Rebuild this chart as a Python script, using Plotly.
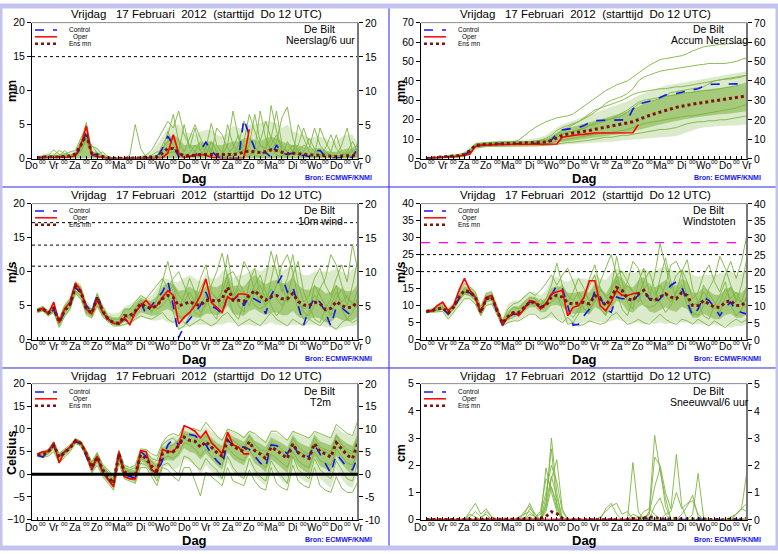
import plotly.graph_objects as go

W, H = 778, 554
HOURS = list(range(6, 361, 6))          # 60 six-hourly steps
HOURS_OPER = HOURS[:40]                  # operational run to +240h

DAY_NAMES = ["Do", "Vr", "Za", "Zo", "Ma", "Di", "Wo", "Do", "Vr", "Za", "Zo", "Ma", "Di", "Wo", "Do", "Vr"]
TITLE = "Vrijdag\u00a0\u00a0 17 Februari\u00a0 2012\u00a0 (starttijd\u00a0 Do 12 UTC)"
PANEL_LABELS = ["Neerslag/6 uur", "Accum Neerslag", "10m wind", "Windstoten", "T2m", "Sneeuwval/6 uur"]
PANEL_UNITS = ["mm", "mm", "m/s", "m/s", "Celsius", "cm"]
Y_RANGES = [(0, 20), (0, 70), (0, 20), (0, 40), (-10, 20), (0, 5)]
Y_STEPS = [5, 10, 5, 5, 5, 1]

# ---------------- Neerslag/6 uur ----------------
precip_ctrl = [0.1,0.2,0.3,0.2,0.2,0.2,0.3,0.5,1.5,4.2,
               0.5,0.7,0.2,0.0,0.0,0.0,0.0,0.0,0.0,0.0,
               0.0,0.0,0.1,1.5,3.3,2.0,0.3,0.2,0.3,0.5,
               1.2,2.4,1.2,0.3,0.1,0.0,0.0,0.0,5.8,3.5,
               1.5,0.8,0.9,0.2,2.0,0.8,0.6,0.8,0.5,0.5,
               0.3,1.1,1.2,0.3,0.1,0.1,0.1,0.1,0.2,1.6]
precip_oper = [0.1,0.1,0.2,0.2,0.1,0.1,0.2,0.4,2.0,4.8,
               0.5,0.3,0.1,0.0,0.0,0.0,0.0,0.0,0.0,0.0,
               0.0,0.0,0.0,0.1,0.8,3.5,0.8,0.1,0.3,0.5,
               0.6,0.5,0.2,0.1,0.0,0.0,0.0,0.0,0.1,4.3]
precip_mean = [0.1,0.2,0.3,0.2,0.2,0.3,0.4,0.7,2.0,3.5,
               0.8,0.4,0.3,0.1,0.05,0.05,0.05,0.05,0.1,0.1,
               0.2,0.2,0.3,0.8,1.5,1.5,0.8,0.4,0.4,0.5,
               0.6,0.6,0.5,0.5,0.5,0.5,0.6,0.7,1.0,1.1,
               1.0,0.9,1.0,1.3,1.2,0.9,0.7,0.8,0.7,0.6,
               0.5,0.5,0.5,0.4,0.3,0.3,0.4,0.4,0.4,0.5]
precip_lo = [0.0] * 60
precip_hi = [0.4,0.6,0.9,0.8,0.9,0.8,1.0,1.2,3.2,5.0,
             1.5,1.5,0.8,0.3,0.2,0.1,0.1,0.2,0.3,0.5,
             0.6,1.0,2.0,3.2,4.5,5.0,5.0,3.8,3.8,3.5,
             4.0,4.2,4.2,3.5,3.2,3.8,4.8,4.5,4.5,5.0,
             5.0,5.2,5.5,5.5,5.2,4.5,5.0,4.0,3.8,3.5,
             3.0,3.2,3.2,3.0,2.6,2.6,3.2,3.5,3.5,2.2]
precip_core_lo = [0.0] * 60
precip_core_hi = [0.3,0.4,0.5,0.5,0.5,0.5,0.6,0.8,2.5,4.0,
                  1.0,1.0,0.4,0.1,0.1,0.1,0.1,0.1,0.1,0.1,
                  0.2,0.3,0.5,1.5,3.0,3.5,3.0,2.0,2.0,2.0,
                  2.2,2.5,2.5,2.0,2.0,2.2,2.5,2.5,3.0,3.0,
                  2.8,2.5,3.0,3.2,3.0,2.5,2.2,2.0,2.0,1.8,
                  1.5,1.5,1.6,1.2,1.0,1.0,1.3,1.5,1.5,1.5]
precip_m1 = [0.2,0.3,0.5,1.3,0.6,0.4,0.5,0.8,2.5,5.3,
             1.0,0.5,0.2,0.0,0.0,0.0,0.0,0.5,5.0,1.5,
             0.2,0.3,0.5,1.5,2.5,3.0,1.0,0.5,0.3,1.0,
             2.5,0.8,0.3,0.2,0.5,2.0,7.0,3.0,0.5,0.3,
             1.0,2.0,1.5,3.0,2.0,0.5,0.3,0.8,1.5,0.5,
             0.3,0.2,0.5,1.0,0.5,0.2,0.3,1.0,2.5,1.0]
precip_m2 = [0.1,0.2,0.3,0.5,1.2,0.8,0.3,0.5,1.5,3.5,
             1.8,1.5,0.5,0.2,0.0,0.0,0.0,0.0,0.0,0.2,
             0.5,1.2,2.5,4.0,5.5,4.5,7.0,3.5,2.0,1.0,
             0.5,1.5,5.2,2.0,0.8,0.3,0.5,1.0,2.5,6.5,
             4.0,2.0,1.0,7.8,4.0,1.5,1.0,2.0,0.5,1.0,
             3.0,1.5,0.5,0.3,1.0,0.5,0.2,0.5,1.5,2.0]
precip_m3 = [0.0,0.1,0.2,0.3,0.4,0.6,1.0,1.2,3.0,4.5,
             0.8,0.6,1.0,0.3,0.1,0.0,0.0,0.0,0.0,0.0,
             0.1,0.2,0.3,2.0,3.5,6.5,2.5,1.0,3.0,5.0,
             3.0,1.5,0.8,4.5,3.5,1.5,0.5,2.0,5.5,3.0,
             1.5,7.0,3.0,1.2,2.5,6.0,7.6,3.0,1.0,2.0,
             1.5,4.5,2.0,1.0,0.3,0.5,2.0,4.5,1.0,0.5]
precip_m4 = [0.2,0.4,0.3,0.5,0.3,1.2,0.4,0.6,2.0,3.0,
             2.0,0.8,0.3,0.1,0.0,0.0,0.0,0.0,0.0,0.0,
             0.0,0.5,1.0,1.0,4.0,2.0,1.0,5.0,1.5,4.5,
             1.0,0.5,2.5,1.0,0.5,5.0,2.0,1.0,0.8,2.0,
             6.5,2.5,5.5,3.0,7.0,2.0,1.0,0.5,5.0,3.0,
             1.0,0.5,4.5,2.5,1.0,3.5,1.0,0.3,0.5,1.5]
precip_m5 = [0.1,0.1,0.2,0.2,0.3,0.3,0.4,0.8,1.5,2.5,
             0.5,0.3,0.2,0.1,0.0,0.0,0.0,0.0,0.0,0.0,
             0.0,0.0,0.2,0.5,1.0,1.5,0.8,0.5,0.8,2.0,
             1.2,2.5,1.0,0.5,0.3,0.8,1.5,3.5,1.0,0.5,
             1.5,1.0,0.8,2.0,3.5,1.0,0.5,1.2,2.0,4.5,
             2.0,1.0,0.5,1.5,3.5,1.5,0.5,0.8,1.0,0.5]
precip_m6 = [0.0,0.1,0.1,0.2,0.2,0.3,0.3,0.5,1.0,3.0,
             0.3,0.2,0.1,0.0,0.0,0.0,0.0,0.0,0.0,0.0,
             0.0,0.0,0.0,0.3,0.8,1.0,0.5,0.2,0.2,0.5,
             0.3,0.8,1.5,0.5,0.2,0.3,0.5,1.0,2.0,1.2,
             0.5,0.3,1.0,1.5,0.5,0.3,2.5,1.0,0.5,0.2,
             0.5,0.3,0.2,0.8,0.5,0.3,0.2,0.1,0.3,2.5]

# ---------------- Accum Neerslag ----------------
accum_ctrl = [0.1,0.3,0.6,0.9,1.1,1.3,1.5,2.0,3.5,6.5,
              6.9,7.2,7.4,7.5,7.5,7.5,7.5,7.5,7.6,7.6,
              7.7,7.8,8.0,9.5,13.0,14.8,15.2,15.5,16.0,17.0,
              18.5,19.5,19.8,19.8,19.8,19.8,19.8,20.0,25.5,28.0,
              28.8,29.5,30.2,31.5,32.8,33.2,33.5,34.2,34.8,35.2,
              36.0,37.2,38.2,38.3,38.3,38.3,38.3,38.3,38.5,39.8]
accum_oper = [0.1,0.2,0.4,0.6,0.8,1.0,1.2,1.7,2.2,6.3,
              6.8,7.0,7.1,7.2,7.2,7.2,7.2,7.2,7.2,7.2,
              7.2,7.2,7.2,7.3,7.5,11.0,11.5,12.0,12.3,12.5,
              13.0,13.2,13.2,13.2,13.2,13.2,13.2,13.2,13.3,17.5]
accum_mean = [0.1,0.3,0.5,0.8,1.0,1.3,1.6,2.2,4.0,6.8,
              7.2,7.4,7.5,7.6,7.6,7.6,7.7,7.7,7.8,7.9,
              8.0,8.2,8.5,9.3,10.8,12.0,12.6,13.0,13.4,13.9,
              14.5,15.1,15.6,16.1,16.6,17.2,17.8,18.4,19.0,20.2,
              21.2,22.2,23.1,24.0,24.9,25.7,26.4,27.0,27.6,28.1,
              28.5,28.9,29.3,29.7,30.1,30.5,30.9,31.4,31.9,32.5]
accum_lo = [0.0,0.1,0.2,0.4,0.5,0.6,0.7,1.0,2.0,5.0,
            5.5,5.8,6.0,6.0,6.0,6.0,6.0,6.0,6.1,6.2,
            6.3,6.4,6.5,6.6,6.8,7.0,7.2,7.4,7.6,7.8,
            8.0,8.2,8.4,8.6,8.8,9.0,9.3,9.6,9.9,10.2,
            10.4,10.6,10.8,11.0,11.2,11.4,11.6,12.5,13.5,14.5,
            15.5,16.0,16.3,16.5,16.8,17.0,17.0,17.0,17.2,17.5]
accum_hi = [0.4,0.8,1.2,1.6,2.0,2.4,2.8,3.8,6.0,8.3,
            8.7,8.8,8.9,9.0,9.0,9.0,9.0,9.2,9.5,10.0,
            10.5,11.0,12.0,14.0,16.0,17.5,18.5,19.5,20.5,21.5,
            22.5,23.5,24.5,25.5,26.5,27.5,28.5,29.5,31.0,32.5,
            33.5,34.5,35.5,36.5,37.5,38.0,38.5,39.0,39.5,40.0,
            40.5,41.0,41.5,42.0,42.5,43.0,43.5,44.0,44.5,45.0]
accum_core_lo = [0.0,0.2,0.3,0.5,0.7,0.9,1.1,1.5,2.8,5.8,
                 6.3,6.6,6.8,6.9,6.9,6.9,7.0,7.0,7.0,7.1,
                 7.2,7.3,7.4,7.6,8.0,8.5,9.0,9.3,9.6,10.0,
                 10.4,10.8,11.2,11.6,12.0,12.4,12.8,13.3,13.8,14.5,
                 15.2,16.0,16.8,17.5,18.2,18.8,19.4,20.0,20.5,21.0,
                 21.4,21.8,22.2,22.5,22.8,23.0,23.3,23.6,24.0,24.5]
accum_core_hi = [0.3,0.6,0.9,1.2,1.5,1.8,2.2,3.0,5.0,7.6,
                 8.0,8.2,8.3,8.4,8.4,8.4,8.5,8.6,8.8,9.0,
                 9.3,9.7,10.2,11.5,13.5,15.0,15.8,16.5,17.2,18.0,
                 18.8,19.5,20.2,21.0,21.8,22.5,23.3,24.2,25.5,27.0,
                 28.2,29.3,30.3,31.2,32.0,32.7,33.3,33.8,34.3,34.7,
                 35.1,35.5,35.8,36.1,36.4,36.7,37.0,37.3,37.7,38.5]
accum_m0 = [0.2,0.4,0.6,0.9,1.2,1.5,1.8,2.5,4.5,7.5,
            8.0,8.3,8.5,8.6,8.7,8.8,8.8,9.5,12.0,14.0,
            16.0,17.5,19.0,20.0,21.0,21.5,22.0,23.0,25.0,27.0,
            29.0,31.0,33.0,35.0,36.5,38.0,39.0,40.0,42.0,44.0,
            46.0,48.0,49.5,51.0,51.5,52.0,52.5,53.0,54.0,55.5,
            56.5,57.5,58.0,58.5,58.8,59.0,59.2,59.3,59.5,59.8]
accum_m1 = [0.1,0.2,0.4,0.6,0.8,1.0,1.3,1.8,3.5,6.8,
            7.5,7.8,8.0,8.1,8.1,8.2,8.2,8.3,8.5,8.8,
            9.0,9.5,10.5,12.0,14.5,16.0,17.0,18.0,19.0,20.5,
            22.0,24.0,26.0,28.5,30.0,31.0,32.0,33.5,36.0,40.0,
            42.0,43.0,44.0,45.0,45.5,46.0,46.5,47.0,47.5,48.0,
            48.2,48.5,49.0,49.0,49.0,49.0,49.5,50.0,51.0,52.0]
accum_m2 = [0.1,0.3,0.5,0.8,1.0,1.2,1.5,2.0,3.8,7.0,
            7.3,7.5,7.6,7.7,7.7,7.7,7.7,7.8,7.8,7.9,
            8.0,8.0,8.5,10.0,12.0,13.0,13.5,14.0,14.5,15.5,
            17.0,18.5,19.5,20.0,20.5,21.0,22.0,24.0,26.0,28.0,
            29.0,29.5,30.0,31.0,32.5,34.0,34.5,35.0,35.5,36.0,
            36.5,37.0,38.5,40.0,40.5,41.0,41.0,41.5,42.0,43.0]
accum_m3 = [0.0,0.1,0.2,0.4,0.6,0.8,1.0,1.5,2.8,6.0,
            6.5,6.8,7.0,7.0,7.0,7.0,7.0,7.0,7.1,7.2,
            7.3,7.4,7.5,8.0,9.0,9.5,10.0,10.5,11.0,11.5,
            12.0,12.5,13.0,13.0,13.5,14.0,14.5,15.0,16.0,17.0,
            18.0,18.5,19.0,19.5,20.0,20.5,21.0,21.5,22.0,22.0,
            22.5,23.0,23.5,24.0,24.5,25.0,25.5,26.0,27.0,28.0]
accum_m4 = [0.2,0.4,0.7,1.0,1.3,1.6,2.0,2.8,4.5,7.3,
            7.8,8.0,8.2,8.3,8.3,8.3,8.4,8.4,8.5,8.6,
            8.7,9.0,9.5,10.5,12.5,14.5,16.0,17.5,19.0,21.0,
            23.0,25.0,26.0,27.0,28.0,29.0,30.0,31.5,33.0,34.0,
            34.5,35.0,35.5,36.0,36.0,36.5,37.0,37.0,37.5,38.0,
            38.5,39.0,39.5,40.0,40.5,41.0,41.5,42.0,42.5,43.0]
accum_m5 = [0.0,0.1,0.2,0.3,0.5,0.6,0.8,1.2,2.5,5.5,
            6.0,6.2,6.3,6.4,6.4,6.4,6.4,6.5,6.5,6.6,
            6.6,6.7,6.8,7.0,7.5,8.0,8.3,8.5,8.8,9.0,
            9.5,10.0,10.5,11.0,11.0,11.5,12.0,12.0,12.5,13.0,
            13.5,14.0,14.5,15.0,15.0,15.5,16.0,17.0,18.0,18.5,
            19.0,19.0,19.5,19.5,20.0,20.0,20.5,21.0,21.5,22.0]
accum_m6 = [0.1,0.2,0.4,0.6,0.9,1.1,1.4,2.0,3.8,7.0,
            7.4,7.6,7.7,7.8,7.8,7.8,7.9,7.9,8.0,8.0,
            8.1,8.3,8.6,9.5,11.0,12.5,13.5,14.0,15.0,16.0,
            17.0,17.5,18.5,19.5,20.5,22.0,23.5,25.0,27.0,29.0,
            30.0,30.5,31.0,31.5,32.0,32.5,33.0,33.5,34.0,34.0,
            34.5,35.0,35.0,35.5,36.0,36.5,37.0,37.5,38.0,39.0]

# ---------------- 10m wind ----------------
wind_ctrl = [4.3,4.6,3.8,4.4,2.5,4.0,5.0,7.6,7.0,5.0,
             4.0,6.6,4.2,3.0,2.5,2.4,3.0,2.5,4.0,5.5,
             3.7,5.0,6.0,7.0,8.6,5.0,0.3,2.0,3.0,4.0,
             5.0,7.0,5.0,4.5,3.8,6.5,5.8,6.5,5.0,6.4,
             6.0,5.5,3.8,6.5,8.0,9.4,7.0,7.8,5.0,2.2,
             4.5,6.2,5.5,4.0,2.0,4.8,4.7,4.0,3.5,3.6]
wind_oper = [4.2,4.6,3.8,5.5,2.5,4.5,5.5,8.3,7.2,4.5,
             3.8,6.0,4.0,3.0,2.4,2.3,3.2,2.2,4.0,5.0,
             5.8,4.8,5.0,6.2,7.2,6.5,2.3,3.3,4.0,5.0,
             6.5,8.9,5.5,4.8,4.0,6.3,5.8,6.7,6.7,6.5]
wind_mean = [4.3,4.5,3.9,4.6,2.6,4.3,5.2,7.8,7.0,4.5,
             3.9,6.2,4.2,3.0,2.5,2.4,3.5,3.5,4.2,5.3,
             4.8,4.6,5.0,6.0,6.5,6.2,5.0,5.2,5.6,5.2,
             5.0,5.8,5.8,5.6,6.0,7.7,5.8,5.8,5.6,6.5,
             7.2,6.4,5.8,6.3,6.5,6.0,6.0,6.8,5.6,5.1,
             5.0,5.5,5.3,4.4,4.6,5.6,5.0,4.7,4.8,5.7]
wind_lo = [3.9,4.1,3.4,3.9,1.8,3.2,4.2,6.4,5.8,3.7,
           3.1,4.5,3.2,2.6,2.1,2.0,2.2,2.2,2.8,3.3,
           3.2,2.8,2.8,3.0,2.5,2.5,1.5,1.8,2.0,2.2,
           2.2,2.2,2.0,2.2,2.2,2.5,2.5,2.2,2.2,2.2,
           2.0,2.2,2.2,2.5,2.2,2.2,2.2,2.2,2.2,2.0,
           2.2,2.2,2.2,1.8,1.8,1.5,1.8,2.0,2.0,2.2]
wind_hi = [4.7,4.9,4.4,5.5,3.3,5.3,6.3,8.6,8.2,5.8,
           4.8,6.9,5.2,4.0,3.8,4.0,4.8,5.2,5.8,6.5,
           6.2,6.5,7.5,9.0,9.0,8.5,8.5,9.0,9.5,9.0,
           8.5,9.5,9.0,9.0,10.0,10.5,9.0,9.5,9.5,10.0,
           10.5,10.0,10.5,11.0,10.5,10.0,10.5,11.0,10.0,9.5,
           9.5,10.0,10.0,10.0,10.0,10.5,10.0,9.5,10.5,10.5]
wind_core_lo = [4.0,4.2,3.5,4.0,2.0,3.5,4.5,6.8,6.2,3.8,
                3.3,5.0,3.5,2.7,2.2,2.1,2.6,2.6,3.2,4.0,
                3.8,3.5,3.6,4.2,4.5,4.0,3.0,3.2,3.6,3.3,
                3.2,3.8,3.8,3.6,3.8,5.0,3.8,3.6,3.5,4.2,
                4.5,4.0,3.6,4.0,4.0,3.6,3.6,4.2,3.4,3.0,
                3.0,3.3,3.1,2.5,2.6,3.3,2.9,2.7,2.8,3.4]
wind_core_hi = [4.6,4.8,4.2,5.2,3.1,5.0,5.9,8.4,7.8,5.2,
                4.5,6.6,4.8,3.6,3.3,3.3,4.5,4.6,5.3,6.2,
                5.8,5.7,6.4,7.8,8.4,8.2,7.2,7.3,7.8,7.3,
                7.0,7.9,7.9,7.7,8.2,9.8,7.9,8.0,7.8,8.8,
                9.5,8.7,8.1,8.6,8.8,8.3,8.4,9.2,8.0,7.4,
                7.3,7.9,7.6,6.8,7.0,8.0,7.4,7.1,7.2,8.2]
wind_m1 = [4.4,4.7,4.0,4.8,2.8,4.6,5.6,8.0,7.4,4.8,
           4.2,6.6,4.5,3.2,2.7,2.6,3.8,3.0,4.6,5.8,
           5.2,4.0,6.0,8.5,11.5,8.0,4.5,6.5,9.0,7.0,
           5.0,6.5,4.0,3.0,8.0,12.5,7.5,5.0,4.0,8.5,
           10.5,6.5,5.0,9.0,12.5,8.0,5.5,7.0,4.5,3.0,
           4.0,8.0,6.5,5.0,3.5,6.0,7.5,5.0,8.0,12.0]
wind_m2 = [4.1,4.3,3.6,4.3,2.2,4.0,4.8,7.2,6.4,4.0,
           3.5,5.6,3.8,2.8,2.2,2.1,2.8,3.8,4.0,4.8,
           4.4,5.5,4.5,5.0,6.0,5.0,3.5,3.0,4.0,5.5,
           7.5,9.0,5.5,4.5,5.5,6.5,4.0,3.0,5.5,6.0,
           8.0,9.5,7.0,5.0,3.5,4.5,6.5,9.5,11.5,7.0,
           5.0,3.0,2.5,4.5,6.0,8.0,4.5,3.0,4.0,6.0]
wind_m3 = [4.5,4.9,4.2,5.0,3.0,5.0,6.0,8.5,7.6,5.2,
           4.4,6.8,4.9,3.4,3.0,3.0,4.5,4.5,5.5,6.5,
           6.0,7.0,8.0,9.0,7.5,9.0,10.0,8.0,6.0,4.0,
           3.5,5.5,8.0,10.0,12.7,9.0,6.5,8.0,11.5,10.0,
           7.0,5.5,9.0,13.0,10.0,7.0,9.0,12.5,8.0,5.5,
           6.5,9.0,10.5,8.0,6.5,9.0,11.0,8.5,14.0,10.0]
wind_m4 = [4.0,4.2,3.5,4.0,1.8,3.4,4.5,6.8,6.0,3.6,
           3.2,5.0,3.4,2.6,2.0,2.0,2.2,2.5,3.0,3.5,
           3.2,3.0,3.5,4.0,3.0,2.5,3.5,2.5,2.0,2.5,
           3.0,2.5,2.0,2.5,3.5,4.0,3.0,2.0,2.5,3.0,
           2.5,2.0,3.0,4.0,3.0,2.5,2.0,3.0,2.5,2.0,
           3.0,2.5,2.0,3.0,2.0,1.5,2.5,3.0,2.5,3.0]
wind_m5 = [4.3,4.5,3.8,4.6,2.5,4.4,5.3,7.8,7.2,4.4,
           3.8,6.0,4.0,2.9,2.4,2.3,3.2,3.3,4.2,5.5,
           5.0,4.2,5.2,6.5,7.0,8.0,6.5,5.5,7.0,5.5,
           4.0,5.0,7.0,6.0,4.5,8.5,6.0,7.5,6.5,5.0,
           7.0,8.0,6.0,7.5,6.0,5.0,6.5,7.5,5.5,4.5,
           5.0,6.5,5.5,4.0,5.0,7.0,5.5,6.5,5.0,7.5]
wind_m6 = [4.2,4.4,3.9,4.4,2.6,4.2,5.0,7.5,6.8,4.3,
           3.7,6.2,4.2,3.0,2.5,2.4,3.4,3.6,4.3,5.0,
           4.6,4.8,5.0,6.0,6.5,4.0,1.5,2.0,3.5,6.0,
           9.0,11.0,7.0,6.0,7.0,9.5,10.0,8.5,7.0,6.5,
           5.0,4.5,5.0,6.0,8.0,11.0,12.5,10.0,6.0,4.0,
           3.5,5.0,7.5,9.0,12.5,11.0,8.0,6.0,5.5,4.5]

# ---------------- Windstoten ----------------
gust_ctrl = [8.2,8.5,9.0,9.2,7.5,9.5,12.0,14.0,13.8,12.5,
             8.0,12.0,12.5,8.0,4.2,6.5,7.5,7.5,9.5,11.0,
             11.0,9.5,10.5,13.0,16.0,15.0,10.0,4.2,4.5,7.0,
             9.0,14.5,12.5,9.0,8.0,12.5,12.0,12.0,11.5,13.0,
             14.5,12.0,10.5,12.0,14.0,16.0,17.0,15.5,11.0,7.0,
             9.0,12.5,11.5,9.5,7.0,9.5,11.0,8.5,8.0,7.5]
gust_oper = [8.2,8.5,10.0,11.0,8.5,10.0,14.5,18.0,14.5,12.5,
             8.0,12.5,13.0,8.5,4.5,6.5,8.0,7.0,9.0,11.5,
             11.0,9.0,10.5,13.5,14.0,14.5,7.0,9.5,10.0,12.5,
             17.3,17.3,10.0,8.5,11.0,14.5,13.0,13.0,13.5,13.8]
gust_mean = [8.3,8.5,9.0,9.3,7.8,9.5,12.5,14.5,14.0,12.5,
             8.0,12.0,12.5,8.5,4.8,6.8,8.0,8.0,9.5,11.0,
             11.0,9.5,10.0,12.5,13.0,12.5,10.8,10.5,10.8,11.0,
             10.5,13.0,12.0,10.0,12.5,15.3,14.5,12.0,11.5,13.5,
             14.5,12.0,11.5,12.5,13.5,12.5,12.0,13.8,13.0,10.0,
             10.0,11.5,10.5,9.5,9.5,11.0,11.5,10.0,10.0,11.5]
gust_lo = [7.7,7.9,8.2,8.3,6.3,8.0,10.2,12.0,12.0,10.2,
           6.8,10.0,10.3,7.0,3.8,5.0,5.8,5.8,6.8,7.8,
           7.8,6.2,6.2,6.5,6.0,5.5,5.0,4.5,4.5,5.0,
           5.0,5.5,5.0,5.0,5.5,6.0,5.5,5.0,5.0,5.0,
           4.5,5.0,4.5,5.0,4.5,5.0,5.0,5.0,5.0,4.5,
           4.5,4.5,4.0,4.5,4.0,4.0,3.5,4.0,4.0,4.5]
gust_hi = [9.0,9.3,10.5,11.0,9.5,10.8,14.5,16.5,15.8,14.5,
           10.5,14.0,14.5,10.5,6.5,10.5,11.5,11.5,13.0,14.0,
           14.0,13.0,14.5,18.0,18.5,17.5,17.0,18.0,18.0,18.0,
           17.5,19.5,18.0,17.5,19.5,21.0,20.5,19.5,19.5,20.0,
           21.0,20.0,20.0,21.0,21.5,20.5,20.0,20.5,20.5,19.0,
           18.5,19.0,19.0,19.0,19.5,19.5,20.0,19.0,19.5,21.0]
gust_core_lo = [7.9,8.1,8.5,8.7,7.0,8.8,11.3,13.2,12.8,11.3,
                7.2,11.0,11.4,7.6,4.3,5.8,6.8,6.8,8.2,9.5,
                9.5,8.0,8.2,10.0,10.2,9.7,8.0,7.6,7.8,7.9,
                7.4,9.6,8.7,7.0,9.0,11.4,10.6,8.4,7.9,9.6,
                10.5,8.3,7.8,8.6,9.5,8.6,8.1,9.7,9.0,6.4,
                6.4,7.6,6.8,6.0,6.0,7.2,7.6,6.4,6.4,7.5]
gust_core_hi = [8.7,9.0,9.7,10.2,8.7,10.3,13.8,15.8,15.2,13.7,
                9.0,13.2,13.8,9.6,5.6,8.5,9.8,9.8,11.3,12.6,
                12.6,11.4,12.2,15.2,15.8,15.3,13.8,13.7,14.0,14.3,
                13.8,16.5,15.5,13.5,16.2,19.0,18.3,15.8,15.3,17.4,
                18.5,15.8,15.3,16.4,17.5,16.4,15.9,17.9,17.0,13.8,
                13.8,15.4,14.4,13.2,13.2,14.8,15.4,13.8,13.8,15.5]
gust_m1 = [8.4,8.7,9.3,9.8,8.2,9.8,13.0,15.0,14.5,13.0,
           8.5,12.5,13.0,9.0,5.0,7.5,9.5,9.0,11.0,12.5,
           12.0,10.0,12.0,16.0,22.5,16.0,11.0,14.0,18.0,15.0,
           11.0,14.0,9.0,7.0,15.0,24.5,17.0,11.0,9.0,17.0,
           21.0,14.0,11.0,18.0,24.0,17.0,12.0,15.0,10.0,7.0,
           8.5,16.0,13.5,11.0,8.0,12.5,15.5,11.0,16.0,24.0]
gust_m2 = [8.1,8.3,8.7,8.9,7.2,9.0,11.5,13.5,13.0,11.5,
           7.5,11.2,11.8,8.0,4.5,6.0,6.5,8.5,9.0,10.5,
           10.0,12.0,10.0,11.0,12.5,11.0,8.0,6.5,9.0,12.0,
           16.0,19.0,12.0,10.0,12.0,14.0,9.0,7.0,12.0,13.0,
           17.0,20.0,15.0,11.0,8.0,10.0,14.0,20.0,23.5,15.0,
           11.0,7.0,6.0,10.0,13.0,17.0,10.0,7.0,9.0,13.0]
gust_m3 = [8.6,9.0,9.8,10.3,8.8,10.5,14.0,16.5,15.5,14.0,
           9.5,13.5,14.0,10.0,5.5,9.0,10.5,11.0,12.5,14.0,
           13.0,14.5,16.5,19.0,16.0,19.0,21.0,17.0,13.0,9.0,
           8.0,12.0,17.0,21.0,25.0,19.0,14.0,17.0,23.0,21.0,
           15.0,12.0,19.0,28.3,22.0,15.0,19.0,20.5,17.0,12.0,
           14.0,19.0,22.0,17.0,14.0,19.0,23.0,18.0,23.0,31.0]
gust_m4 = [7.9,8.0,8.2,8.3,6.0,8.0,10.0,12.0,12.0,10.5,
           7.0,10.0,10.5,7.0,4.0,5.0,5.5,5.5,6.5,7.5,
           7.5,6.0,6.5,8.0,6.0,5.0,6.5,5.0,4.0,4.5,
           5.5,5.0,4.5,5.0,7.0,8.0,6.0,4.5,5.0,6.0,
           5.0,4.5,6.0,7.5,6.0,5.0,4.5,6.0,5.5,4.5,
           6.0,5.0,4.0,5.5,4.5,3.5,5.0,6.0,5.0,6.0]
gust_m5 = [8.3,8.5,9.1,9.4,7.8,9.6,12.3,14.3,14.0,12.3,
           8.0,12.0,12.5,8.5,4.8,7.0,8.0,8.0,9.5,11.5,
           11.0,9.5,11.0,13.5,14.5,16.0,13.0,11.5,14.0,11.5,
           9.0,11.0,14.5,13.0,10.0,17.5,13.0,16.0,14.0,11.0,
           15.0,16.5,13.0,16.0,13.0,11.0,14.0,16.0,12.0,10.0,
           11.0,14.0,12.0,9.0,11.0,15.0,12.0,14.0,11.0,16.0]
gust_m6 = [8.2,8.4,8.9,9.2,7.5,9.2,12.0,14.0,13.5,12.0,
           7.8,11.8,12.2,8.3,4.6,6.5,7.5,7.5,9.0,10.5,
           10.5,10.5,11.0,12.5,13.5,9.0,4.5,5.0,7.5,12.0,
           18.0,22.0,15.0,12.5,14.0,19.0,20.0,17.0,14.0,13.0,
           10.0,9.5,10.0,12.0,16.0,22.0,23.0,19.5,12.0,8.0,
           7.0,10.0,15.0,18.0,24.5,21.0,16.0,12.0,11.0,9.0]

# ---------------- T2m ----------------
t2m_ctrl = [4.2,3.8,5.0,6.3,3.8,5.0,6.0,7.2,6.8,4.0,
            1.0,3.8,0.5,-1.0,-2.5,5.0,0.0,-0.5,-0.8,5.0,
            4.0,1.0,0.2,3.0,6.5,7.8,6.5,8.3,8.8,8.5,
            7.5,6.5,4.5,3.0,1.8,7.5,6.5,6.0,6.0,5.5,
            4.0,2.5,1.5,6.5,6.3,5.8,4.5,6.8,4.5,3.8,
            4.0,6.5,4.5,2.5,0.2,4.5,3.0,1.5,1.0,4.0]
t2m_oper = [4.5,5.0,5.0,7.0,2.5,5.0,6.0,7.5,7.0,4.5,
            1.2,4.0,0.5,-1.0,-2.7,5.0,-0.5,-1.0,-1.0,5.2,
            5.0,1.0,0.3,5.5,5.0,5.0,6.5,10.7,10.2,9.5,
            8.0,9.5,7.0,5.8,4.5,9.3,6.5,6.0,4.5,4.5]
t2m_mean = [4.3,4.3,5.0,6.4,3.8,4.8,5.8,7.4,6.8,4.5,
            1.5,3.8,1.0,-0.5,-2.0,4.5,0.5,0.0,-0.2,4.3,
            3.5,1.8,0.8,4.5,5.0,5.0,6.3,8.2,7.5,7.3,
            6.0,7.2,6.0,4.8,4.0,7.5,6.2,5.5,5.0,7.2,
            5.2,4.5,3.5,6.0,5.3,4.5,3.5,6.7,4.8,4.0,
            3.5,6.8,5.0,4.5,3.8,7.0,5.5,4.2,3.5,7.0]
t2m_lo = [3.8,3.6,4.0,5.0,2.5,3.8,5.0,6.7,6.2,3.6,
          0.3,2.2,-0.5,-2.0,-3.6,2.8,-1.0,-1.5,-2.0,2.0,
          1.5,-0.3,-1.5,1.8,1.8,1.0,1.5,3.5,2.8,2.0,
          0.0,2.0,0.8,-0.5,-1.5,2.5,0.5,-0.5,-1.0,2.0,
          -0.5,-1.5,-2.5,1.5,0.0,-1.5,-2.5,2.0,-0.5,-1.5,
          -2.0,1.5,-1.0,-2.0,-3.0,1.0,-1.0,-2.5,-3.0,0.5]
t2m_hi = [4.7,5.2,5.6,7.2,4.8,5.8,6.6,7.9,7.4,5.5,
          2.8,4.9,2.3,1.0,-0.2,5.4,2.0,1.6,1.8,5.6,
          5.5,4.0,3.5,6.8,7.8,8.5,8.5,10.3,10.0,10.0,
          9.3,10.5,9.5,8.3,7.5,10.0,9.3,9.0,8.5,9.7,
          8.7,8.0,7.3,9.3,9.0,8.3,7.6,9.5,8.8,8.3,
          8.0,9.5,8.8,8.4,8.0,10.5,9.4,8.8,8.3,11.0]
t2m_core_lo = [4.0,3.9,4.5,5.8,3.1,4.3,5.4,7.0,6.4,4.0,
               0.8,3.0,0.0,-1.5,-3.0,3.5,-0.5,-1.0,-1.3,3.0,
               2.2,0.3,-0.8,2.8,3.2,3.0,4.0,5.8,5.0,4.6,
               3.2,4.6,3.3,2.0,1.0,4.9,3.4,2.6,2.0,4.5,
               2.4,1.6,0.4,3.3,2.4,1.4,0.3,3.9,1.8,0.8,
               0.2,3.9,1.8,1.2,0.4,4.0,2.3,0.9,0.0,4.0]
t2m_core_hi = [4.6,4.8,5.5,7.0,4.5,5.3,6.3,7.8,7.2,5.1,
               2.3,4.6,1.9,0.5,-1.0,5.2,1.5,1.0,1.0,5.3,
               4.7,3.2,2.3,5.9,6.6,6.8,7.9,9.6,9.2,9.0,
               8.0,9.2,8.2,7.0,6.3,9.3,8.3,7.7,7.2,9.0,
               7.4,6.8,6.0,8.2,7.6,6.9,6.0,8.7,7.2,6.5,
               6.0,8.8,7.3,6.9,6.4,9.0,7.7,6.8,6.3,9.3]
t2m_m1 = [4.5,4.9,5.5,7.2,4.6,5.5,6.5,7.9,7.3,5.3,
          2.8,4.8,2.2,1.0,-0.3,5.3,2.0,1.5,2.0,5.6,
          5.5,4.5,4.0,7.0,8.5,9.0,8.5,10.8,10.2,10.0,
          9.5,11.5,10.0,8.5,7.5,10.0,9.5,9.0,8.0,9.5,
          9.0,8.0,7.0,9.5,9.5,8.5,7.5,9.5,9.0,8.5,
          8.0,9.5,9.0,8.5,8.0,11.0,10.0,9.0,8.5,12.0]
t2m_m2 = [4.0,3.7,4.0,5.0,2.5,3.8,5.0,6.8,6.2,3.8,
          0.3,2.0,-0.5,-2.0,-3.5,2.5,-1.0,-1.5,-2.0,1.5,
          1.5,-0.5,-2.5,1.5,1.0,-0.5,-1.5,1.5,1.5,-1.5,
          -4.8,0.5,-0.5,-1.5,-2.5,1.5,-1.5,-2.0,-2.5,1.0,
          -1.5,-3.0,-3.5,1.5,-2.0,-3.0,-3.5,2.0,-1.5,-2.5,
          -3.0,1.5,-2.5,-3.5,-4.0,-0.5,-3.0,-4.0,-4.0,-1.5]
t2m_m3 = [4.3,4.5,5.2,6.6,4.0,5.0,6.0,7.6,7.0,4.8,
          2.0,4.2,1.5,0.0,-1.5,4.8,1.0,0.5,0.5,4.8,
          4.2,2.8,1.5,5.0,6.0,6.5,7.5,9.0,8.5,8.5,
          7.0,8.5,7.5,6.0,5.0,8.5,7.5,6.5,6.0,8.5,
          6.5,5.5,5.0,7.0,6.5,5.5,4.5,8.0,6.0,5.0,
          4.5,8.0,6.0,5.5,5.0,8.5,6.5,5.5,5.0,8.5]
t2m_m4 = [4.2,4.1,4.7,6.0,3.4,4.5,5.6,7.2,6.6,4.2,
          1.0,3.3,0.5,-1.0,-2.5,4.0,0.0,-0.5,-0.8,3.5,
          2.8,1.0,0.0,3.5,4.0,3.5,4.5,7.0,6.5,5.5,
          4.0,5.5,4.0,3.0,2.0,6.0,4.5,3.5,3.0,5.5,
          3.5,2.5,1.5,4.5,3.5,2.5,1.5,5.0,3.0,2.0,
          1.5,5.0,3.0,2.5,2.0,5.5,4.0,2.5,2.0,5.5]
t2m_m5 = [4.4,4.7,5.4,7.0,4.3,5.2,6.2,7.7,7.1,5.0,
          2.5,4.5,1.8,0.5,-1.0,5.0,1.5,1.0,1.5,5.3,
          5.0,3.5,3.0,6.5,7.5,8.0,6.5,8.0,7.0,7.5,
          6.0,7.5,6.0,5.0,4.0,7.5,6.5,6.0,5.5,7.5,
          5.5,5.0,4.0,6.5,5.5,5.0,4.0,7.0,5.0,4.5,
          4.0,7.0,5.5,5.0,4.5,7.5,6.0,5.0,4.5,8.0]
t2m_m6 = [4.1,3.9,4.5,5.8,3.2,4.3,5.4,7.0,6.4,4.0,
          0.5,2.8,0.0,-1.5,-3.0,3.5,-0.5,-1.0,-1.5,2.5,
          2.0,0.5,-1.5,2.0,2.5,1.0,0.0,4.0,3.5,2.0,
          1.0,3.5,2.0,1.0,-1.0,4.0,1.5,0.0,-1.0,3.5,
          1.0,-0.5,-1.5,3.0,1.0,-0.5,-2.0,4.0,1.0,0.0,
          -1.0,3.5,1.0,0.0,-1.0,3.0,1.0,-1.0,-1.5,3.0]

# ---------------- Sneeuwval/6 uur ----------------
snow_ctrl = [0,0,0,0,0,0,0,0,0,0,
             0,0,0,0,0,0,0,0,0,0,
             0,0,0,0,0,0,0,0,0,0,
             0,0,0,0,0,0,0,0,0,0.05,
             0.05,0,0,0,0,0,0,0,0,0,
             0,0,0,0,0,0,0,0,0,0]
snow_oper = [0] * 40
snow_mean = [0,0,0,0,0,0,0,0,0.02,0.02,
             0.01,0.01,0,0,0,0,0,0,0.02,0.03,
             0.02,0.05,0.12,0.29,0.22,0.05,0,0,0,0,
             0,0,0,0,0.01,0.01,0,0,0.04,0.02,
             0.05,0.1,0.08,0.03,0.02,0.02,0.05,0.02,0.02,0.03,
             0.03,0.01,0,0,0,0,0,0.02,0.02,0.05]
snow_m1 = [0,0,0,0,0,0,0,0,0.3,0.6,
           0.2,0.4,0.1,0,0,0,0,0,0,0,
           0,0,1.9,1.0,0.3,0,0,0,0,0,
           0,0,0,0,0,0,0,0,2.1,0.3,
           0,0.3,3.1,1.8,0.8,0,0,0,0,0,
           0,0,0,0,0,0,0.1,0.2,0.4,1.8]
snow_m2 = [0,0,0,0,0,0,0,0,0,0,
           0,0,0,0,0,0,0,0,0.2,0.6,
           0.2,0,0.5,3.0,1.0,0,0,0,0,0,
           0,0,0,0,0,0,0,0,0,0.1,
           0.1,0.2,2.3,2.0,1.0,0.4,2.4,0.5,0,0,
           0,0,0,0,0,0,0,0.2,0.4,0.3]
snow_m3 = [0,0,0,0,0,0,0,0,0.1,0.3,
           0.1,0.2,0,0,0,0,0,0,0.3,0.5,
           0.1,0,0.8,2.6,0.5,0,0,0,0,0,
           0,0,0,0.4,0.6,0.2,0,0,0,0,
           0,0.2,1.2,1.9,0.5,0,0,0.2,0.5,0.9,
           0.1,0,0,0,0,0,0,0,0,0]
snow_m4 = [0,0,0,0,0,0,0,0,0,0,
           0,0,0,0,0,0,0,0.1,0.2,0.3,
           0.1,0.2,1.0,2.0,1.4,0.3,0,0,0,0,
           0,0,0,0,0,0,0,0,0,0,
           0.3,0.4,0.2,0,0,0,0,0,0,0.2,
           1.7,0.1,0,0,0,0,0,0.2,0.4,0.6]
snow_m5 = [0,0,0,0,0,0,0,0,0,0,
           0,0,0,0,0,0,0,0,0,0.2,
           0.1,0.3,1.5,1.2,0.6,0,0,0,0,0,
           0,0,0.1,0.3,0.5,0.6,0.2,0.3,0,0,
           0,0.1,0,0,0.2,0.3,1.0,0.4,0.6,0.7,
           0.2,0,0,0,0,0,0,0,0,0]
snow_m6 = [0,0,0,0,0,0,0,0,0.2,0.1,
           0,0.3,0.1,0,0,0,0,0,0,0.4,
           0.2,0,0.4,1.5,2.2,0.4,0,0,0,0,
           0,0,0,0,0,0,0,0,0.2,0.1,
           0,0,0.5,0.8,0.2,0,0,0,0,0,
           0,0,0,0,0,0,0,0,0,0]
snow_m7 = [0,0,0,0,0,0,0,0,0,0,
           0,0,0,0,0,0,0,0,0,0,
           0,0,0.6,1.6,0.8,0.1,0,0,0,0,
           0,0,0,0,0,0,0,0,0,0,
           0,0,0,0,0,0,0,0,0,0,
           0,0,0,0,0,0,0,0,0,0.1]
snow_m8 = [0,0,0,0,0,0,0,0,0,0,
           0,0,0,0,0,0,0,0,0,0.1,
           0,0,0.3,1.2,0.4,0,0,0,0,0,
           0,0,0,0,0,0,0,0,0,0,
           0,0,0,0,0,0,0,0,0,0,
           0,0,0,0,0,0,0,0,0,0]

# ======================= drawing =======================
GREEN = "rgb(125,180,65)"
OUTER_FILL = "rgba(125,180,65,0.28)"
CORE_FILL = "rgba(125,180,65,0.58)"
CTRL_C = "rgb(20,20,235)"
OPER_C = "rgb(255,0,0)"
MEAN_C = "rgb(125,20,15)"
FONT = "Liberation Sans, Arial, sans-serif"

OX = [0, 389, 0, 389, 0, 389]
OY = [0, 0, 185, 185, 370, 370]
TOP = [17, 17, 17, 17, 16, 16]
BOT = [156, 156, 156, 156, 155, 155]


def fx(px):
    return px / W


def fy(py):
    return 1 - py / H


panel_data = [
    (precip_ctrl, precip_oper, precip_mean, (precip_lo, precip_hi), (precip_core_lo, precip_core_hi),
     [precip_m1, precip_m2, precip_m3, precip_m4, precip_m5, precip_m6]),
    (accum_ctrl, accum_oper, accum_mean, (accum_lo, accum_hi), (accum_core_lo, accum_core_hi),
     [accum_m0, accum_m1, accum_m2, accum_m3, accum_m4, accum_m5, accum_m6]),
    (wind_ctrl, wind_oper, wind_mean, (wind_lo, wind_hi), (wind_core_lo, wind_core_hi),
     [wind_m1, wind_m2, wind_m3, wind_m4, wind_m5, wind_m6]),
    (gust_ctrl, gust_oper, gust_mean, (gust_lo, gust_hi), (gust_core_lo, gust_core_hi),
     [gust_m1, gust_m2, gust_m3, gust_m4, gust_m5, gust_m6]),
    (t2m_ctrl, t2m_oper, t2m_mean, (t2m_lo, t2m_hi), (t2m_core_lo, t2m_core_hi),
     [t2m_m1, t2m_m2, t2m_m3, t2m_m4, t2m_m5, t2m_m6]),
    (snow_ctrl, snow_oper, snow_mean, None, None,
     [snow_m1, snow_m2, snow_m3, snow_m4, snow_m5, snow_m6, snow_m7, snow_m8]),
]

fig = go.Figure()
shapes = []
annots = []
layout = {}

for k in range(6):
    n = k + 1
    xa = "x" if n == 1 else f"x{n}"
    ya = "y" if n == 1 else f"y{n}"
    ctrl, oper, mean, outer, core, members = panel_data[k]

    for band, col in ((outer, OUTER_FILL), (core, CORE_FILL)):
        if band is None:
            continue
        lo, hi = band
        fig.add_trace(go.Scatter(x=HOURS + HOURS[::-1], y=hi + lo[::-1], fill="toself",
                                 fillcolor=col, line=dict(width=0), mode="lines",
                                 hoverinfo="skip", showlegend=False, xaxis=xa, yaxis=ya))
    for m in members:
        fig.add_trace(go.Scatter(x=HOURS, y=m, mode="lines", line=dict(color=GREEN, width=0.9),
                                 showlegend=False, xaxis=xa, yaxis=ya))
    fig.add_trace(go.Scatter(x=HOURS, y=ctrl, mode="lines", line=dict(color=CTRL_C, width=1.6, dash="dash"),
                             showlegend=False, xaxis=xa, yaxis=ya))
    fig.add_trace(go.Scatter(x=HOURS_OPER, y=oper, mode="lines", line=dict(color=OPER_C, width=1.6),
                             showlegend=False, xaxis=xa, yaxis=ya))
    fig.add_trace(go.Scatter(x=HOURS, y=mean, mode="lines", line=dict(color=MEAN_C, width=3, dash="dot"),
                             showlegend=False, xaxis=xa, yaxis=ya))

    ox, oy = OX[k], OY[k]
    left, right = ox + 32, ox + 358
    top, bot = oy + TOP[k], oy + BOT[k]
    y0, y1 = Y_RANGES[k]

    layout["xaxis" if n == 1 else f"xaxis{n}"] = dict(
        domain=[fx(left), fx(right)], range=[0, 360], anchor=ya, showline=True, linecolor="black",
        linewidth=1, ticks="inside", tick0=0, dtick=6, ticklen=3, tickcolor="black",
        showticklabels=False, showgrid=False, zeroline=False)
    layout["yaxis" if n == 1 else f"yaxis{n}"] = dict(
        domain=[fy(bot), fy(top)], range=[y0, y1], anchor=xa, showline=True, linecolor="black",
        linewidth=1, ticks="outside", ticklen=4, tickcolor="black", dtick=Y_STEPS[k], tick0=0,
        mirror="ticks", showgrid=False, zeroline=False,
        tickfont=dict(family=FONT, size=10.5, color="black"))

    # frame: gray top and right edges
    shapes.append(dict(type="line", xref="paper", yref="paper", x0=fx(left), x1=fx(right),
                       y0=fy(top), y1=fy(top), line=dict(color="rgb(140,140,140)", width=1)))
    shapes.append(dict(type="line", xref="paper", yref="paper", x0=fx(right), x1=fx(right),
                       y0=fy(top), y1=fy(bot), line=dict(color="rgb(120,120,120)", width=2)))

    # right-side tick labels
    v = y0
    while v <= y1 + 1e-9:
        annots.append(dict(xref="paper", yref=ya, x=fx(right + 5), y=v, text=f"{v:g}", showarrow=False,
                           xanchor="left", yanchor="middle", font=dict(family=FONT, size=10.5, color="black")))
        v += Y_STEPS[k]

    # x labels (day names at 12 UTC, small "00" at midnight)
    for d, name in enumerate(DAY_NAMES):
        annots.append(dict(xref=xa, yref="paper", x=24 * d, y=fy(oy + 163.5), text=name, showarrow=False,
                           xanchor="center", yanchor="middle", borderpad=0,
                           font=dict(family=FONT, size=10, color="black")))
    for d in range(15):
        annots.append(dict(xref=xa, yref="paper", x=24 * d + 12, y=fy(oy + 159), text="00", showarrow=False,
                           xanchor="center", yanchor="middle", borderpad=0,
                           font=dict(family=FONT, size=6, color="black")))

    # texts
    annots.append(dict(xref="paper", yref="paper", x=fx(ox + 196), y=fy(oy + 8), text=TITLE, showarrow=False,
                       xanchor="center", yanchor="middle", font=dict(family=FONT, size=11.5, color="black")))
    annots.append(dict(xref="paper", yref="paper", x=fx(ox + 12), y=fy(oy + 87), text=f"<b>{PANEL_UNITS[k]}</b>",
                       showarrow=False, textangle=-90, xanchor="center", yanchor="middle",
                       font=dict(family=FONT, size=12.5, color="black")))
    annots.append(dict(xref="paper", yref="paper", x=fx(ox + 195), y=fy(oy + 176), text="<b>Dag</b>",
                       showarrow=False, xanchor="center", yanchor="middle", borderpad=0,
                       font=dict(family=FONT, size=13, color="black")))
    annots.append(dict(xref="paper", yref="paper", x=fx(ox + 374), y=fy(oy + 175), text="<b>Bron: ECMWF/KNMI</b>",
                       showarrow=False, xanchor="right", yanchor="middle",
                       font=dict(family=FONT, size=7, color="rgb(20,20,230)")))
    annots.append(dict(xref="paper", yref="paper", x=fx(ox + 319), y=fy(oy + 24), text="De Bilt",
                       showarrow=False, xanchor="center", yanchor="middle",
                       font=dict(family=FONT, size=10.5, color="black")))
    annots.append(dict(xref="paper", yref="paper", x=fx(ox + 320), y=fy(oy + 35), text=PANEL_LABELS[k],
                       showarrow=False, xanchor="center", yanchor="middle",
                       font=dict(family=FONT, size=10.5, color="black")))

    # legend
    leg = [("Control", oy + 24.5, dict(color="rgb(80,80,255)", width=2, dash="dash")),
           ("Oper", oy + 31.5, dict(color=OPER_C, width=1.5)),
           ("Ens mn", oy + 38.5, dict(color=MEAN_C, width=2.5, dash="dot"))]
    for label, yy, ls in leg:
        shapes.append(dict(type="line", xref="paper", yref="paper", x0=fx(ox + 35), x1=fx(ox + 57),
                           y0=fy(yy), y1=fy(yy), line=ls))
        annots.append(dict(xref="paper", yref="paper", x=fx(ox + 80), y=fy(yy), text=label,
                           showarrow=False, xanchor="center", yanchor="middle", borderpad=0,
                           font=dict(family=FONT, size=6.5, color="black")))

# reference lines
def hline(n, yv, dash, color="black", width=1, layer="below"):
    xa = "x" if n == 1 else f"x{n}"
    ya = "y" if n == 1 else f"y{n}"
    shapes.append(dict(type="line", xref=xa, yref=ya, x0=0, x1=360, y0=yv, y1=yv, layer=layer,
                       line=dict(color=color, width=width, dash=dash)))

hline(1, 15, "dot")
for yv in (10.8, 13.9, 17.2):
    hline(3, yv, "dot")
for yv in (20, 25):
    hline(4, yv, "dot")
hline(4, 28.5, "dash", color="rgb(255,0,255)", width=1.2)
hline(5, 0, "solid", width=3, layer="above")

# panel separators and outer border
SEP = "rgb(40,40,225)"
shapes.append(dict(type="line", xref="paper", yref="paper", x0=fx(389), x1=fx(389), y0=0, y1=1,
                   line=dict(color=SEP, width=1)))
for yy in (185, 370):
    shapes.append(dict(type="line", xref="paper", yref="paper", x0=0, x1=1, y0=fy(yy), y1=fy(yy),
                       line=dict(color=SEP, width=1)))
shapes.append(dict(type="rect", xref="paper", yref="paper", x0=0, x1=1, y0=0, y1=1,
                   line=dict(color="rgb(195,195,240)", width=5)))

fig.update_layout(width=W, height=H, margin=dict(l=0, r=0, t=0, b=0), autosize=False,
                  paper_bgcolor="white", plot_bgcolor="white", showlegend=False,
                  shapes=shapes, annotations=annots, **layout)

fig.write_html("out.html", config={"displayModeBar": False},
               post_script="document.body.style.margin='0px';document.body.style.overflow='hidden';")
